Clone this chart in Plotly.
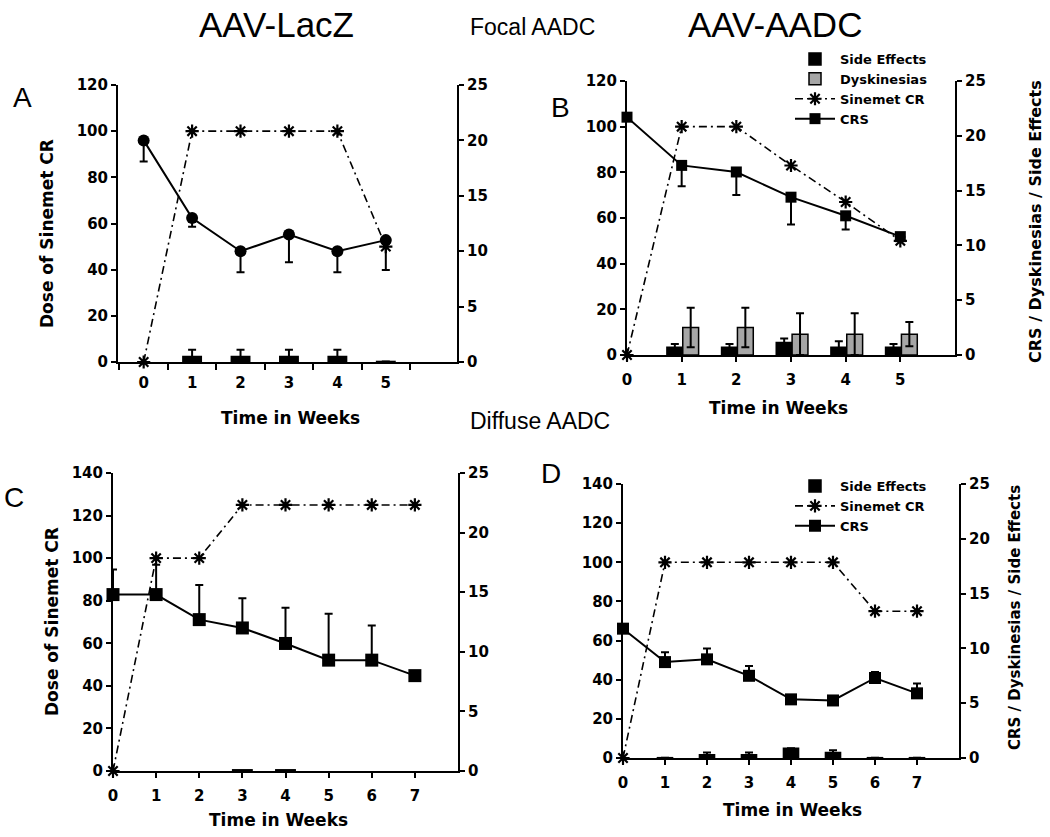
import plotly.graph_objects as go

W, H = 1050, 837

# ---------------- data ----------------
# Panel A (AAV-LacZ, focal)
weeks_a = [0, 1, 2, 3, 4, 5]
sinemet_a = [0, 100, 100, 100, 100, 50]
crs_a = [20.0, 13.0, 10.0, 11.5, 10.0, 11.0]
crs_a_err_minus = [1.9, 0.8, 1.9, 2.5, 1.9, 2.7]
side_weeks_a = [1, 2, 3, 4, 5]
side_a = [0.5, 0.5, 0.5, 0.5, 0.05]
side_a_err = [0.6, 0.6, 0.6, 0.6, 0.0]

# Panel B (AAV-AADC, focal)
weeks_b = [0, 1, 2, 3, 4, 5]
sinemet_b = [0, 100, 100, 83, 67, 50]
crs_b = [21.7, 17.3, 16.7, 14.4, 12.7, 10.8]
crs_b_err_minus = [0.0, 1.9, 2.1, 2.5, 1.25, 0.0]
bar_weeks_b = [1, 2, 3, 4, 5]
side_b = [0.7, 0.7, 1.15, 0.7, 0.7]
side_b_err = [0.3, 0.3, 0.35, 0.55, 0.3]
dysk_b = [2.5, 2.5, 1.9, 1.9, 1.9]
dysk_b_err = [1.8, 1.8, 1.9, 1.9, 1.1]

# Panel C (AAV-LacZ, diffuse)
weeks_c = [0, 1, 2, 3, 4, 5, 6, 7]
sinemet_c = [0, 100, 100, 125, 125, 125, 125, 125]
crs_c = [14.8, 14.8, 12.7, 12.0, 10.7, 9.3, 9.3, 8.0]
crs_c_err_plus = [2.1, 2.5, 2.9, 2.5, 3.0, 3.9, 2.9, 0.0]
side_weeks_c = [3, 4]
side_c = [0.1, 0.1]

# Panel D (AAV-AADC, diffuse)
weeks_d = [0, 1, 2, 3, 4, 5, 6, 7]
sinemet_d = [0, 100, 100, 100, 100, 100, 75, 75]
crs_d = [11.8, 8.75, 9.0, 7.5, 5.35, 5.25, 7.3, 5.9]
crs_d_err_plus = [0.0, 0.9, 1.0, 0.9, 0.0, 0.0, 0.55, 0.9]
side_weeks_d = [1, 2, 3, 4, 5, 6, 7]
side_d = [0.03, 0.3, 0.3, 0.9, 0.5, 0.03, 0.03]
side_d_err = [0.0, 0.2, 0.2, 0.0, 0.2, 0.0, 0.0]

left_ticks_ab = [0, 20, 40, 60, 80, 100, 120]
left_ticks_cd = [0, 20, 40, 60, 80, 100, 120, 140]
right_ticks = [0, 5, 10, 15, 20, 25]

# ---------------- styles ----------------
TICKFONT = dict(family="DejaVu Sans", size=15, color="black", weight="bold")
TITLEFONT = dict(family="DejaVu Sans", size=17, color="black", weight="bold")
HEADFONT = dict(family="Liberation Sans", size=35, color="black")
SUBFONT = dict(family="Liberation Sans", size=23, color="black")
LETTERFONT = dict(family="Liberation Sans", size=28, color="black")
LEGFONT = dict(family="DejaVu Sans", size=13, color="black", weight="bold")
DASH = "8px,4px,2px,4px"


def px_x(p):
    return p / W


def px_y(p):
    return 1 - p / H


fig = go.Figure()


def sinemet_trace(x, y, xa, ya, legend=None, show=False):
    return go.Scatter(
        x=x, y=y, xaxis=xa, yaxis=ya, name="Sinemet CR",
        mode="lines+markers", cliponaxis=False,
        line=dict(color="black", width=1.6, dash=DASH),
        marker=dict(symbol="asterisk-open", size=11, color="black",
                    line=dict(color="black", width=2.2)),
        showlegend=show, legend=legend)


def crs_trace(x, y, xa, ya, symbol, size, plus=None, minus=None, legend=None, show=False):
    err = dict(type="data", symmetric=False, color="black", thickness=2, width=4,
               array=plus if plus is not None else [0] * len(x),
               arrayminus=minus if minus is not None else [0] * len(x))
    return go.Scatter(
        x=x, y=y, xaxis=xa, yaxis=ya, name="CRS",
        mode="lines+markers", cliponaxis=False,
        line=dict(color="black", width=2),
        marker=dict(symbol=symbol, size=size, color="black"),
        error_y=err, showlegend=show, legend=legend)


def bar_trace(x, y, xa, ya, name, color, width, offset=None, err=None, legend=None, show=False):
    kw = {}
    if offset is not None:
        kw["offset"] = offset
    if err is not None:
        kw["error_y"] = dict(type="data", array=err, color="black", thickness=2, width=4)
    return go.Bar(x=x, y=y, xaxis=xa, yaxis=ya, name=name, width=width,
                  marker=dict(color=color, line=dict(color="black", width=1.5)),
                  showlegend=show, legend=legend, **kw)


# Panel A
fig.add_trace(sinemet_trace(weeks_a, sinemet_a, "x", "y"))
fig.add_trace(bar_trace(side_weeks_a, side_a, "x", "y2", "Side Effects", "black", 0.38, err=side_a_err))
fig.add_trace(crs_trace(weeks_a, crs_a, "x", "y2", "circle", 12, minus=crs_a_err_minus))

# Panel B (legend 1)
fig.add_trace(bar_trace(bar_weeks_b, side_b, "x2", "y4", "Side Effects", "black", 0.29, offset=-0.27,
                        err=side_b_err, legend="legend", show=True))
fig.add_trace(bar_trace(bar_weeks_b, dysk_b, "x2", "y4", "Dyskinesias", "#a6a6a6", 0.29, offset=0.02,
                        err=dysk_b_err, legend="legend", show=True))
fig.add_trace(sinemet_trace(weeks_b, sinemet_b, "x2", "y3", legend="legend", show=True))
fig.add_trace(crs_trace(weeks_b, crs_b, "x2", "y4", "square", 11, minus=crs_b_err_minus,
                        legend="legend", show=True))

# Panel C
fig.add_trace(sinemet_trace(weeks_c, sinemet_c, "x3", "y5"))
fig.add_trace(bar_trace(side_weeks_c, side_c, "x3", "y6", "Side Effects", "black", 0.45))
fig.add_trace(crs_trace(weeks_c, crs_c, "x3", "y6", "square", 13, plus=crs_c_err_plus))

# Panel D (legend 2)
fig.add_trace(bar_trace(side_weeks_d, side_d, "x4", "y8", "Side Effects", "black", 0.36,
                        err=side_d_err, legend="legend2", show=True))
fig.add_trace(sinemet_trace(weeks_d, sinemet_d, "x4", "y7", legend="legend2", show=True))
fig.add_trace(crs_trace(weeks_d, crs_d, "x4", "y8", "square", 12, plus=crs_d_err_plus,
                        legend="legend2", show=True))

AX = dict(showgrid=False, zeroline=False, showline=True, linecolor="black", linewidth=2,
          tickfont=TICKFONT, tickcolor="black", tickwidth=2, fixedrange=True,
          automargin=False)

layout = dict(
    template="none",
    width=W, height=H, autosize=False,
    margin=dict(l=0, r=0, t=0, b=0, pad=0),
    paper_bgcolor="white", plot_bgcolor="white",
    barmode="overlay",
    # Panel A
    xaxis=dict(AX, domain=[px_x(118), px_x(457)], anchor="y", range=[-0.53, 6.47],
               tickvals=weeks_a, ticks="", ticklabelstandoff=6,
               minor=dict(ticks="outside", tickmode="linear", tick0=0.5, dtick=1,
                          ticklen=6, tickcolor="black", tickwidth=2)),
    yaxis=dict(AX, domain=[px_y(362), px_y(85)], anchor="x", range=[0, 120],
               tickvals=left_ticks_ab, ticks="outside", ticklen=5),
    yaxis2=dict(AX, overlaying="y", side="right", anchor="x", range=[0, 25],
                tickvals=right_ticks, ticks="outside", ticklen=5),
    # Panel B
    xaxis2=dict(AX, domain=[px_x(627), px_x(955)], anchor="y3", range=[0, 6],
                tickvals=weeks_b, ticks="outside", ticklen=5, ticklabelstandoff=5),
    yaxis3=dict(AX, domain=[px_y(355), px_y(81)], anchor="x2", range=[0, 120],
                tickvals=left_ticks_ab, ticks="outside", ticklen=5),
    yaxis4=dict(AX, overlaying="y3", side="right", anchor="x2", range=[0, 25],
                tickvals=right_ticks, ticks="outside", ticklen=5),
    # Panel C
    xaxis3=dict(AX, domain=[px_x(113), px_x(458)], anchor="y5", range=[0, 8],
                tickvals=weeks_c, ticks="outside", ticklen=5, ticklabelstandoff=5),
    yaxis5=dict(AX, domain=[px_y(771), px_y(473)], anchor="x3", range=[0, 140],
                tickvals=left_ticks_cd, ticks="outside", ticklen=5),
    yaxis6=dict(AX, overlaying="y5", side="right", anchor="x3", range=[0, 25],
                tickvals=right_ticks, ticks="outside", ticklen=5),
    # Panel D
    xaxis4=dict(AX, domain=[px_x(623), px_x(959)], anchor="y7", range=[0, 8],
                tickvals=weeks_d, ticks="outside", ticklen=5, ticklabelstandoff=5),
    yaxis7=dict(AX, domain=[px_y(758), px_y(484)], anchor="x4", range=[0, 140],
                tickvals=left_ticks_cd, ticks="outside", ticklen=5),
    yaxis8=dict(AX, overlaying="y7", side="right", anchor="x4", range=[0, 25],
                tickvals=right_ticks, ticks="outside", ticklen=5),
    legend=dict(x=px_x(790), y=px_y(44), xanchor="left", yanchor="top",
                bgcolor="rgba(0,0,0,0)", font=LEGFONT,
                tracegroupgap=0, itemwidth=40, traceorder="normal"),
    legend2=dict(x=px_x(790), y=px_y(471), xanchor="left", yanchor="top",
                 bgcolor="rgba(0,0,0,0)", font=LEGFONT,
                 tracegroupgap=0, itemwidth=40, traceorder="normal"),
)
fig.update_layout(**layout)


def ann(text, x, y, font, angle=0):
    fig.add_annotation(text=text, x=px_x(x), y=px_y(y), xref="paper", yref="paper",
                       showarrow=False, font=font, textangle=angle,
                       xanchor="center", yanchor="middle")


ann("AAV-LacZ", 276, 24, HEADFONT)
ann("AAV-AADC", 775, 24, HEADFONT)
ann("Focal AADC", 532, 27, SUBFONT)
ann("Diffuse AADC", 540, 421, SUBFONT)
ann("A", 22, 98, LETTERFONT)
ann("B", 560, 107, LETTERFONT)
ann("C", 14, 497, LETTERFONT)
ann("D", 551, 473, LETTERFONT)
ann("Time in Weeks", 290, 418, TITLEFONT)
ann("Time in Weeks", 778, 408, TITLEFONT)
ann("Time in Weeks", 278, 820, TITLEFONT)
ann("Time in Weeks", 792, 810, TITLEFONT)
ann("Dose of Sinemet CR", 47, 234, TITLEFONT, -90)
ann("Dose of Sinemet CR", 52, 622, TITLEFONT, -90)
ann("CRS / Dyskinesias / Side Effects", 1035, 222, dict(TITLEFONT, size=16), -90)
ann("CRS / Dyskinesias / Side Effects", 1015, 618, dict(TITLEFONT, size=15), -90)

fig.write_html("out.html", config={"displayModeBar": False},
               post_script="document.body.style.margin='0';")
